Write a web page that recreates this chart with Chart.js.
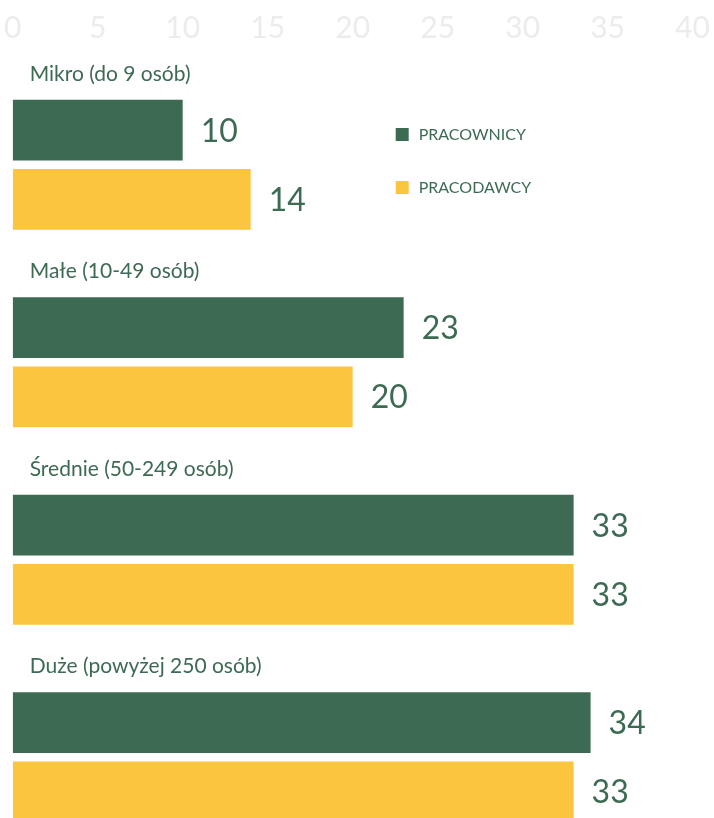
<!DOCTYPE html>
<html>
<head>
<meta charset="utf-8">
<script src="https://cdn.jsdelivr.net/npm/chart.js@4/dist/chart.umd.min.js"></script>
<style>
  html, body { margin: 0; padding: 0; background: #fff; overflow: hidden; }
  #wrap { position: relative; width: 730px; height: 856px; margin-left: -8px; }
</style>
</head>
<body>
<div id="wrap"><canvas id="mychart"></canvas></div>
<script>
const categories = ['Mikro (do 9 osób)', 'Małe (10-49 osób)', 'Średnie (50-249 osób)', 'Duże (powyżej 250 osób)'];
const pracownicy = [10, 23, 33, 34];
const pracodawcy = [14, 20, 33, 33];
const seriesNames = ['PRACOWNICY', 'PRACODAWCY'];
const green = '#3d6a53';
const yellow = '#fcc540';

// category names above each group, value labels at bar ends, legend top right
const decorations = {
    id: 'decorations',
    afterDatasetsDraw(chart) {
        const c = chart.ctx;
        const yScale = chart.scales.y;
        const left = chart.chartArea.left;
        c.save();
        c.fillStyle = green;
        c.textBaseline = 'middle';

        c.font = '21px Lato';
        c.textAlign = 'left';
        categories.forEach((cat, i) => {
            c.fillText(cat, left + 17, yScale.getPixelForValue(i) - 91);
        });

        c.font = '32px Lato';
        chart.data.datasets.forEach((ds, di) => {
            chart.getDatasetMeta(di).data.forEach((bar, i) => {
                c.fillText(ds.data[i], bar.x + 18, bar.y + 1);
            });
        });

        c.font = '16px Lato';
        chart.data.datasets.forEach((ds, di) => {
            const y = 134 + di * 53;
            c.fillStyle = ds.backgroundColor;
            c.fillRect(left + 383, y - 6, 13, 13);
            c.fillStyle = green;
            c.fillText(ds.label, left + 406, y + 1);
        });
        c.restore();
    }
};

const ctx = document.getElementById('mychart').getContext('2d');
let myChart = new Chart(ctx, {
    type: 'bar',
    data: {
        labels: categories,
        datasets: [
            { label: seriesNames[0], data: pracownicy, backgroundColor: green, barPercentage: 0.88, categoryPercentage: 0.7 },
            { label: seriesNames[1], data: pracodawcy, backgroundColor: yellow, barPercentage: 0.88, categoryPercentage: 0.7 }
        ]
    },
    options: {
        indexAxis: 'y',
        responsive: true,
        maintainAspectRatio: false,
        animation: false,
        layout: { padding: { top: 10, left: 0, right: 1, bottom: 0 } },
        plugins: {
            legend: { display: false },
            tooltip: { enabled: false }
        },
        scales: {
            x: {
                position: 'top',
                min: 0,
                max: 40,
                grid: { display: false },
                border: { display: false },
                afterFit(scale) { scale.height = 56; },
                ticks: {
                    stepSize: 5,
                    color: '#ececec',
                    font: { family: 'Lato', size: 30 },
                    padding: 12,
                    maxRotation: 0
                }
            },
            y: {
                display: false
            }
        }
    },
    plugins: [decorations]
});
</script>
</body>
</html>
